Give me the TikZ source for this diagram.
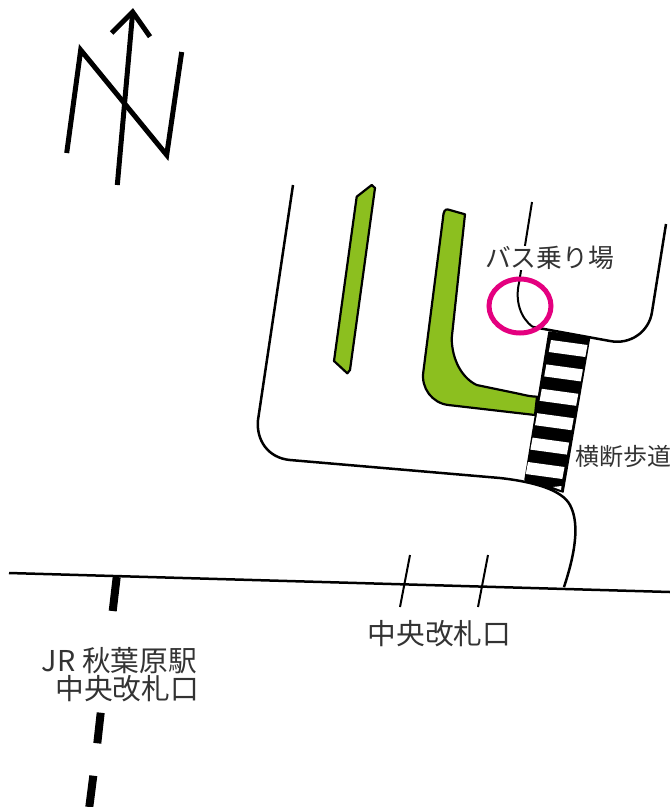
\documentclass[tikz,border=0pt]{standalone}
\usepackage{fontspec}
\setmainfont{Noto Sans CJK JP}
\definecolor{islandgreen}{HTML}{8CBF1F}
\definecolor{ringpink}{HTML}{E4007F}
\definecolor{labelgray}{HTML}{333333}
\tikzset{
  x=1pt,y=-1pt,
  road/.style={draw=black,line width=2.5pt,line join=round},
  thinroad/.style={draw=black,line width=2pt},
  island/.style={draw=black,fill=islandgreen,line width=2.2pt,line join=round},
  railway/.style={draw=black,line width=8pt},
  northmark/.style={draw=black,line width=5pt,line join=miter},
  maplabel/.style={text=labelgray,inner sep=0pt,font=\fontsize{25.8}{30}\selectfont},
}
\begin{document}
\begin{tikzpicture}
\useasboundingbox (0,0) rectangle (670,807);
% north mark
\draw[northmark] (66.7,153) -- (80.7,50) -- (166.7,155) -- (181.7,52);
\draw[northmark] (117.3,185) -- (132.7,12);
\draw[northmark] (111.7,33) -- (132.7,12) -- (150,36.7);
% green islands
\path[island] (356.7,196.7) -- (371.7,185) -- (375,188) -- (350,370) -- (347.3,373.3) -- (334,361) -- cycle;
\path[island] (443,218) .. controls (443.5,211) and (445,209) .. (448,209.5) -- (465,214.3) -- (451.7,338.3)
  .. controls (452,360) and (462,378) .. (476.7,385) -- (520,394) .. controls (528,396) and (532,396.5) .. (537,396.7)
  -- (535,415) -- (448.3,405) .. controls (432,403) and (421,388) .. (423.3,372) -- cycle;
% roads
\draw[road] (293,185) -- (258,420) .. controls (256,440) and (268,458) .. (290,460) -- (500,478)
  .. controls (535,482) and (562,490) .. (570,505) .. controls (578,520) and (578,545) .. (564,587);
\draw[road] (9,573) -- (670,592);
\draw[thinroad] (532,202) -- (519,283) .. controls (515,300) and (520,318) .. (533,327);
\draw[road] (533,327) -- (610,341) .. controls (630,345) and (649,332) .. (652,312) -- (666,224);
\draw[thinroad] (410,555) -- (400,607);
\draw[thinroad] (488,555) -- (478,607);
% railway
\draw[railway] (116.7,577) -- (112.7,611);
\draw[railway] (100.7,712.7) -- (97.3,743.3);
\draw[railway] (93.3,775.7) -- (89.3,807);
% crossing
\filldraw[black,line width=1.5pt,line join=round] (549,332) -- (589.5,338) -- (563,492) -- (525,480) -- cycle;
\foreach \i in {0,...,5}{
  \fill[white] ({551-4.6*\i},{340+24.4*\i}) -- ({587.5-4.6*\i},{345+24.4*\i})
    -- ({585.3-4.6*\i},{357+24.4*\i}) -- ({548.8-4.6*\i},{352+24.4*\i}) -- cycle;
}
\fill[white] (553,487) -- (561.5,486) -- (561,490) -- cycle;
% ring
\draw[ringpink,line width=5pt] (520,306) ellipse [x radius=31, y radius=27];
% labels
\node[maplabel,fill=white,anchor=center] (bus) at (549.5,258) {バス乗り場};
\node[maplabel,anchor=center,font=\fontsize{24}{28}\selectfont] (cross) at (623,456) {横断歩道};
\node[maplabel,anchor=center,font=\fontsize{28.7}{33}\selectfont] (gate) at (439.5,634) {中央改札口};
\node[maplabel,anchor=north east,align=right,font=\fontsize{28.7}{28.5}\selectfont] (jr) at (197,647) {JR 秋葉原駅\\中央改札口\kern-2pt};
\end{tikzpicture}
\end{document}
